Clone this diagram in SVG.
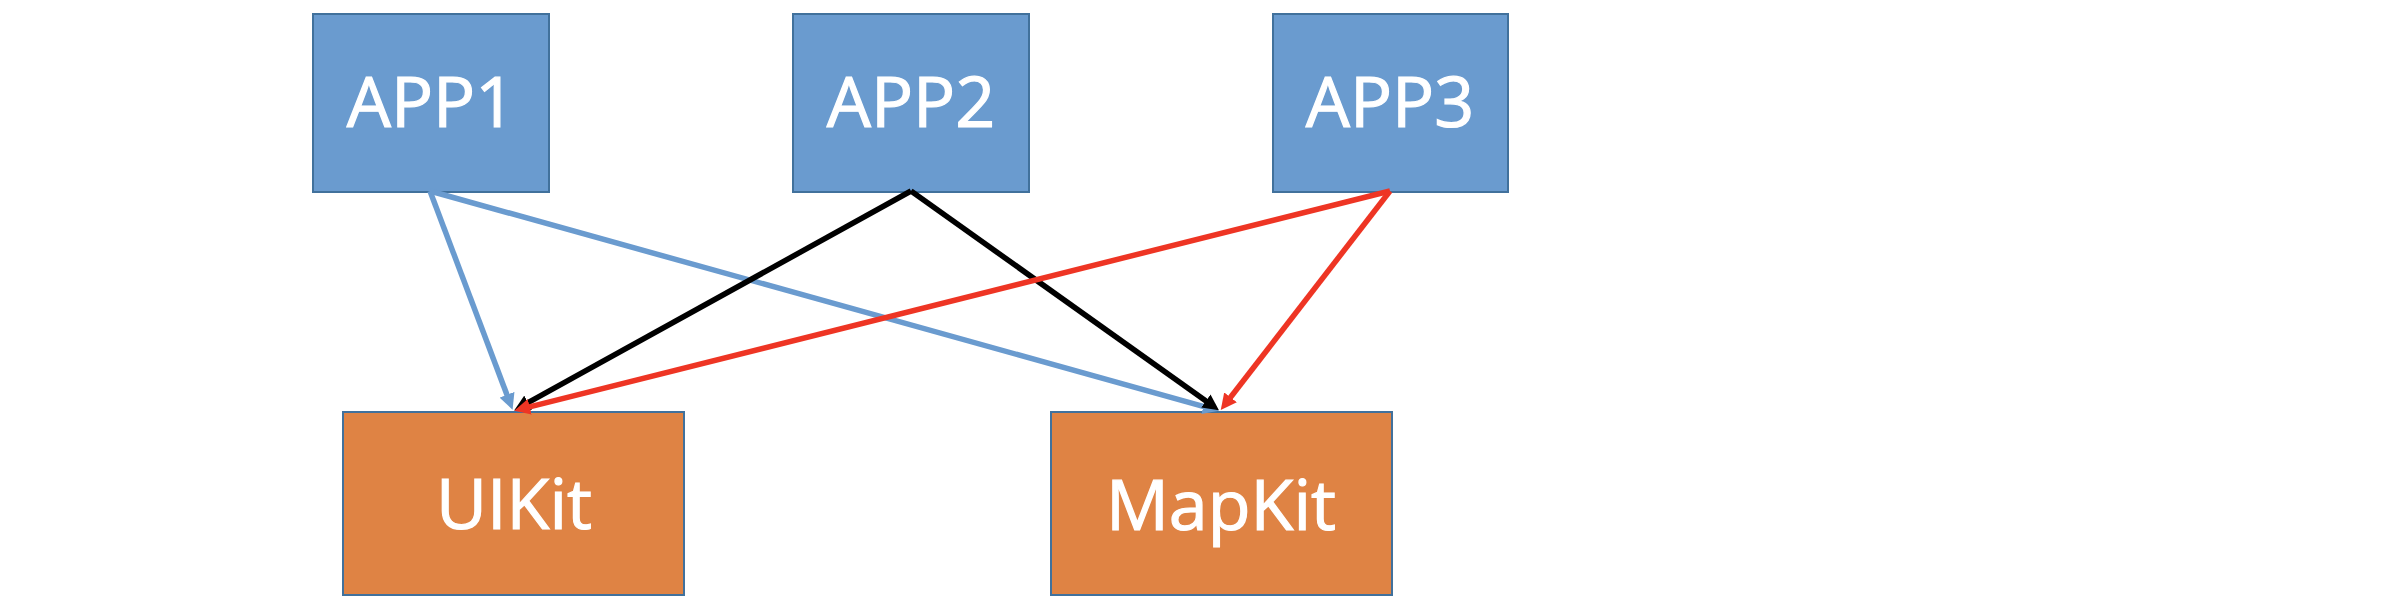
<svg xmlns="http://www.w3.org/2000/svg" width="2382" height="608" viewBox="0 0 2382 608">
<style>
.app{fill:#6A9BCF;stroke:#41719C;stroke-width:2}
.kit{fill:#DF8344;stroke:#41719C;stroke-width:2}
.lbl{font-family:"Open Sans","Liberation Sans",sans-serif;font-size:70px;fill:#FFFFFF;stroke:#FFFFFF;stroke-width:1.2;text-anchor:middle}
.c{fill:none;stroke-width:5.5}
.blue{stroke:#6A9BCF}
.black{stroke:#000000}
.red{stroke:#EE3524}
</style>
<defs>
<marker id="mb" viewBox="0 0 10 10" refX="3.3" refY="5" markerWidth="16" markerHeight="16" markerUnits="userSpaceOnUse" orient="auto"><path d="M0,0 L10,5 L0,10 z" fill="#6A9BCF"/></marker>
<marker id="mk" viewBox="0 0 10 10" refX="3.3" refY="5" markerWidth="16" markerHeight="16" markerUnits="userSpaceOnUse" orient="auto"><path d="M0,0 L10,5 L0,10 z" fill="#000000"/></marker>
<marker id="mr" viewBox="0 0 10 10" refX="3.3" refY="5" markerWidth="16" markerHeight="16" markerUnits="userSpaceOnUse" orient="auto"><path d="M0,0 L10,5 L0,10 z" fill="#EE3524"/></marker>
</defs>
<rect width="2382" height="608" fill="#FFFFFF"/>
<g id="app1"><rect class="app" x="313" y="14" width="236" height="178"/><text class="lbl" x="431" y="127">APP1</text></g>
<g id="app2"><rect class="app" x="793" y="14" width="236" height="178"/><text class="lbl" x="911" y="127">APP2</text></g>
<g id="app3"><rect class="app" x="1273" y="14" width="235" height="178"/><text class="lbl" x="1390" y="127">APP3</text></g>
<g id="uikit"><rect class="kit" x="343" y="412" width="341" height="183"/><text class="lbl" x="514" y="529">UIKit</text></g>
<g id="mapkit"><rect class="kit" x="1051" y="412" width="341" height="183"/><text class="lbl" x="1221" y="530">MapKit</text></g>
<g id="connectors">
<line class="c blue" x1="430" y1="191" x2="508.8" y2="399.7" marker-end="url(#mb)"/>
<line class="c blue" x1="430" y1="191" x2="1208.5" y2="407.8" marker-end="url(#mb)"/>
<line class="c black" x1="911" y1="191" x2="523.5" y2="405.2" marker-end="url(#mk)"/>
<line class="c black" x1="911" y1="191" x2="1210.2" y2="404" marker-end="url(#mk)"/>
<line class="c red" x1="1390" y1="191" x2="524.6" y2="408.1" marker-end="url(#mr)"/>
<line class="c red" x1="1390" y1="191" x2="1227.3" y2="401.5" marker-end="url(#mr)"/>
</g>
</svg>
